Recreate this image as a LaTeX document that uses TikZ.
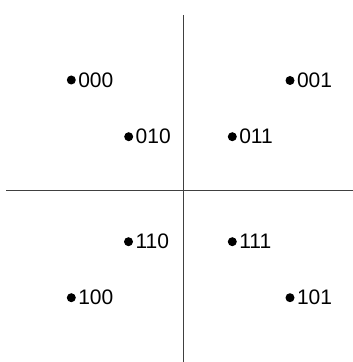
\documentclass[tikz,border=0pt]{standalone}
\usepackage{fontspec}
\setmainfont{Liberation Sans}
\begin{document}
\begin{tikzpicture}[x=1pt,y=1pt,
  pt/.style={circle,fill=black,inner sep=0pt,minimum size=9pt},
  lab/.style={anchor=west,inner sep=0pt,font=\fontsize{21}{21}\selectfont},
  axis/.style={line width=1pt,draw=black!75}]
\useasboundingbox (0,0) rectangle (353,362);
\coordinate (vt) at (183,347);
\coordinate (vb) at (183,0);
\coordinate (hl) at (6,171.5);
\coordinate (hr) at (353,171.5);
\draw[axis] (vt) -- (vb);
\draw[axis] (hl) -- (hr);
\foreach \n/\x/\y in {000/71.3/80, 001/290/80.5, 010/128.7/136.7, 011/232.3/136.7,
  110/128.5/241.7, 111/232.3/241.7, 100/71.3/297.7, 101/290/297.7}{
  \node[pt] (p\n) at (\x,362-\y) {};
  \node[lab] (l\n) at (\x+6.8,362-\y) {\n};
}
\end{tikzpicture}
\end{document}
